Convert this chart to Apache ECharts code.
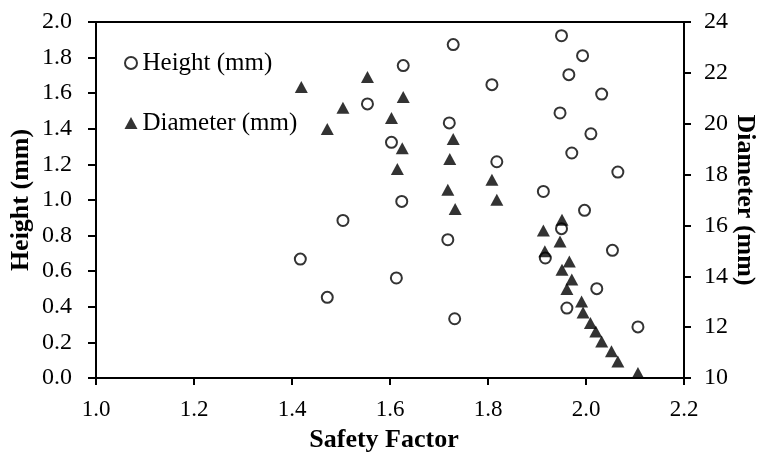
<!DOCTYPE html>
<html>
<head>
<meta charset="utf-8">
<script src="https://cdn.jsdelivr.net/npm/echarts@6/dist/echarts.min.js"></script>
<style>
  html, body { margin: 0; padding: 0; background: #fff; }
  #chart { width: 759px; height: 455px; }
</style>
</head>
<body>
<div id="chart"></div>
<script>
// Height (mm) vs safety factor
var heightSF = [1.554, 1.504, 1.627, 1.729, 1.808, 1.950, 1.993, 1.965, 2.032, 1.947,
    1.721, 1.603, 2.010, 1.971, 1.818, 2.065, 1.913, 1.624, 1.997, 1.950,
    1.718, 1.917, 2.054, 1.613, 2.022, 1.961, 1.732, 2.106, 1.417, 1.472];
var heightVal = [1.54, 0.885, 1.755, 1.873, 1.648, 1.923, 1.811, 1.704, 1.595, 1.489,
    1.433, 1.324, 1.372, 1.264, 1.215, 1.157, 1.048, 0.992, 0.942, 0.839,
    0.777, 0.674, 0.717, 0.562, 0.502, 0.393, 0.333, 0.287, 0.668, 0.453];
// Diameter (mm) vs safety factor
var diamSF = [1.419, 1.472, 1.504, 1.554, 1.627, 1.603, 1.625, 1.615, 1.729, 1.722,
    1.718, 1.733, 1.808, 1.818, 1.951, 1.913, 1.947, 1.916, 1.966, 1.951,
    1.971, 1.961, 1.991, 1.994, 2.009, 2.020, 2.032, 2.052, 2.065, 2.106];
var diamVal = [21.44, 19.79, 20.63, 21.84, 21.05, 20.22, 19.04, 18.22, 19.40, 18.61,
    17.40, 16.65, 17.80, 17.01, 16.22, 15.80, 15.37, 14.98, 14.58, 14.26,
    13.87, 13.50, 13.01, 12.58, 12.16, 11.83, 11.44, 11.05, 10.65, 10.20];

var FONT = '"Liberation Serif", "Times New Roman", serif';

function pairs(xs, ys) {
    return xs.map(function (x, i) { return [x, ys[i]]; });
}

var chart = echarts.init(document.getElementById('chart'));
var nameStyle = { color: '#000', fontFamily: FONT, fontSize: 26, fontWeight: 'bold' };
var lineStyle = { color: '#000', width: 2 };

chart.setOption({
    animation: false,
    grid: {
        left: 96, right: 75, top: 22, bottom: 77,
        outerBoundsMode: 'none',
        containLabel: false,
        show: true, borderColor: '#000', borderWidth: 2, backgroundColor: 'transparent'
    },
    legend: {
        orient: 'vertical',
        left: 124, top: 50,
        padding: 0,
        itemGap: 34,
        itemWidth: 13, itemHeight: 12,
        textStyle: { color: '#000', fontFamily: FONT, fontSize: 25, lineHeight: 26 },
        data: ['Height (mm)', 'Diameter (mm)']
    },
    xAxis: {
        type: 'value',
        min: 1.0, max: 2.2, interval: 0.2,
        name: 'Safety Factor',
        nameLocation: 'middle',
        nameGap: 49,
        nameMoveOverlap: false,
        nameTextStyle: Object.assign({ padding: [0, 12, 0, 0] }, nameStyle),
        axisLine: { show: true, lineStyle: lineStyle },
        axisTick: { show: true, length: 7, lineStyle: lineStyle },
        axisLabel: {
            margin: 20, color: '#000', fontFamily: FONT, fontSize: 23,
            formatter: function (v) { return v.toFixed(1); }
        },
        splitLine: { show: false }
    },
    yAxis: [{
        type: 'value',
        min: 0, max: 2.0, interval: 0.2,
        name: 'Height (mm)',
        nameLocation: 'middle',
        nameGap: 62,
        nameMoveOverlap: false,
        nameTextStyle: nameStyle,
        axisLine: { show: true, lineStyle: lineStyle },
        axisTick: { show: true, length: 8, lineStyle: lineStyle },
        axisLabel: {
            margin: 24, color: '#000', fontFamily: FONT, fontSize: 24,
            formatter: function (v) { return v.toFixed(1); }
        },
        splitLine: { show: false }
    }, {
        type: 'value',
        position: 'right',
        min: 10, max: 24, interval: 2,
        name: 'Diameter (mm)',
        nameLocation: 'middle',
        nameRotate: -90,
        nameGap: 48,
        nameMoveOverlap: false,
        nameTextStyle: nameStyle,
        axisLine: { show: true, lineStyle: lineStyle },
        axisTick: { show: true, length: 7, lineStyle: lineStyle },
        axisLabel: { margin: 20, color: '#000', fontFamily: FONT, fontSize: 24 },
        splitLine: { show: false }
    }],
    series: [{
        name: 'Height (mm)',
        type: 'scatter',
        yAxisIndex: 0,
        symbol: 'circle',
        symbolSize: 11,
        clip: false,
        itemStyle: { color: '#fff', borderColor: '#000', borderWidth: 2 },
        data: pairs(heightSF, heightVal)
    }, {
        name: 'Diameter (mm)',
        type: 'scatter',
        yAxisIndex: 1,
        symbol: 'triangle',
        symbolSize: [13, 12],
        clip: false,
        itemStyle: { color: '#000' },
        data: pairs(diamSF, diamVal)
    }]
});
</script>
</body>
</html>
